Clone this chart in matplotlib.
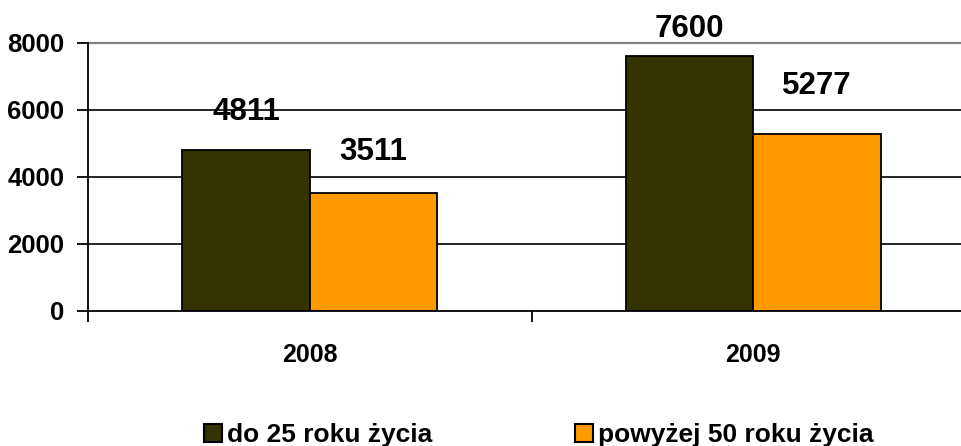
import matplotlib
matplotlib.use("Agg")
import matplotlib.pyplot as plt
from matplotlib.patches import Patch
import numpy as np

categories = ["2008", "2009"]
series_names = ["do 25 roku życia", "powyżej 50 roku życia"]
young = [4811, 7600]
old = [3511, 5277]
yticks = [0, 2000, 4000, 6000, 8000]

colors = ["#333300", "#FF9900"]
# label baseline offsets above bar tops (points), per series per category
label_offsets = [[21.4, 13.5], [24.0, 28.6]]

plt.rcParams['font.family'] = ['Liberation Sans', 'DejaVu Sans']
plt.rcParams['font.weight'] = 'bold'

fig = plt.figure(figsize=(9.61, 4.46), dpi=100)
ax = fig.add_axes([88/961, (446-311)/446, (975-88)/961, (311-42.7)/446])

x = np.arange(len(categories))
w = 0.287
series = [young, old]
for i, vals in enumerate(series):
    pos = x + (i - 0.5) * w
    bars = ax.bar(pos, vals, width=w, color=colors[i], edgecolor="black",
                  linewidth=1.3, zorder=3)
    for j, (b, v) in enumerate(zip(bars, vals)):
        ax.annotate(str(v), (b.get_x() + b.get_width() / 2, v),
                    xytext=(0, label_offsets[i][j]), textcoords="offset points",
                    ha="center", va="baseline", fontsize=22.5, fontweight="bold",
                    zorder=5)

ax.set_xlim(-0.5, len(categories) - 0.5)
ax.set_ylim(0, 8000)
ax.set_yticks(yticks)
ax.set_yticklabels([str(t) for t in yticks], fontsize=18.5, fontweight="bold")
for t in yticks[1:-1]:
    ax.axhline(t, color="black", linewidth=1.2, zorder=1)
ax.axhline(yticks[-1], color="#808080", linewidth=1.6, zorder=1, clip_on=False)

ax.set_xticks(x)
ax.set_xticklabels(categories, fontsize=18, fontweight="bold")
ax.tick_params(axis="x", length=0, pad=23)
ax.set_xticks(np.arange(-0.5, len(categories), 1.0), minor=True)
ax.tick_params(axis="x", which="minor", length=8, width=1.3, direction="out")
ax.tick_params(axis="y", length=8, width=1.3, direction="out", pad=9)

for s in ["top", "right"]:
    ax.spines[s].set_visible(False)
ax.spines["left"].set_linewidth(1.3)
ax.spines["bottom"].set_linewidth(1.3)
ax.spines["bottom"].set_zorder(4)

handles = [Patch(facecolor=c, edgecolor="black", linewidth=1.5) for c in colors]
fig.legend(handles, series_names, loc="center", bbox_to_anchor=(538.5/961, 0.025),
           ncol=2, frameon=False, prop={"weight": "bold", "size": 19},
           handlelength=0.68, handleheight=0.68, handletextpad=0.2, columnspacing=5.4,
           borderpad=0)

fig.savefig("out.png", dpi=100)
